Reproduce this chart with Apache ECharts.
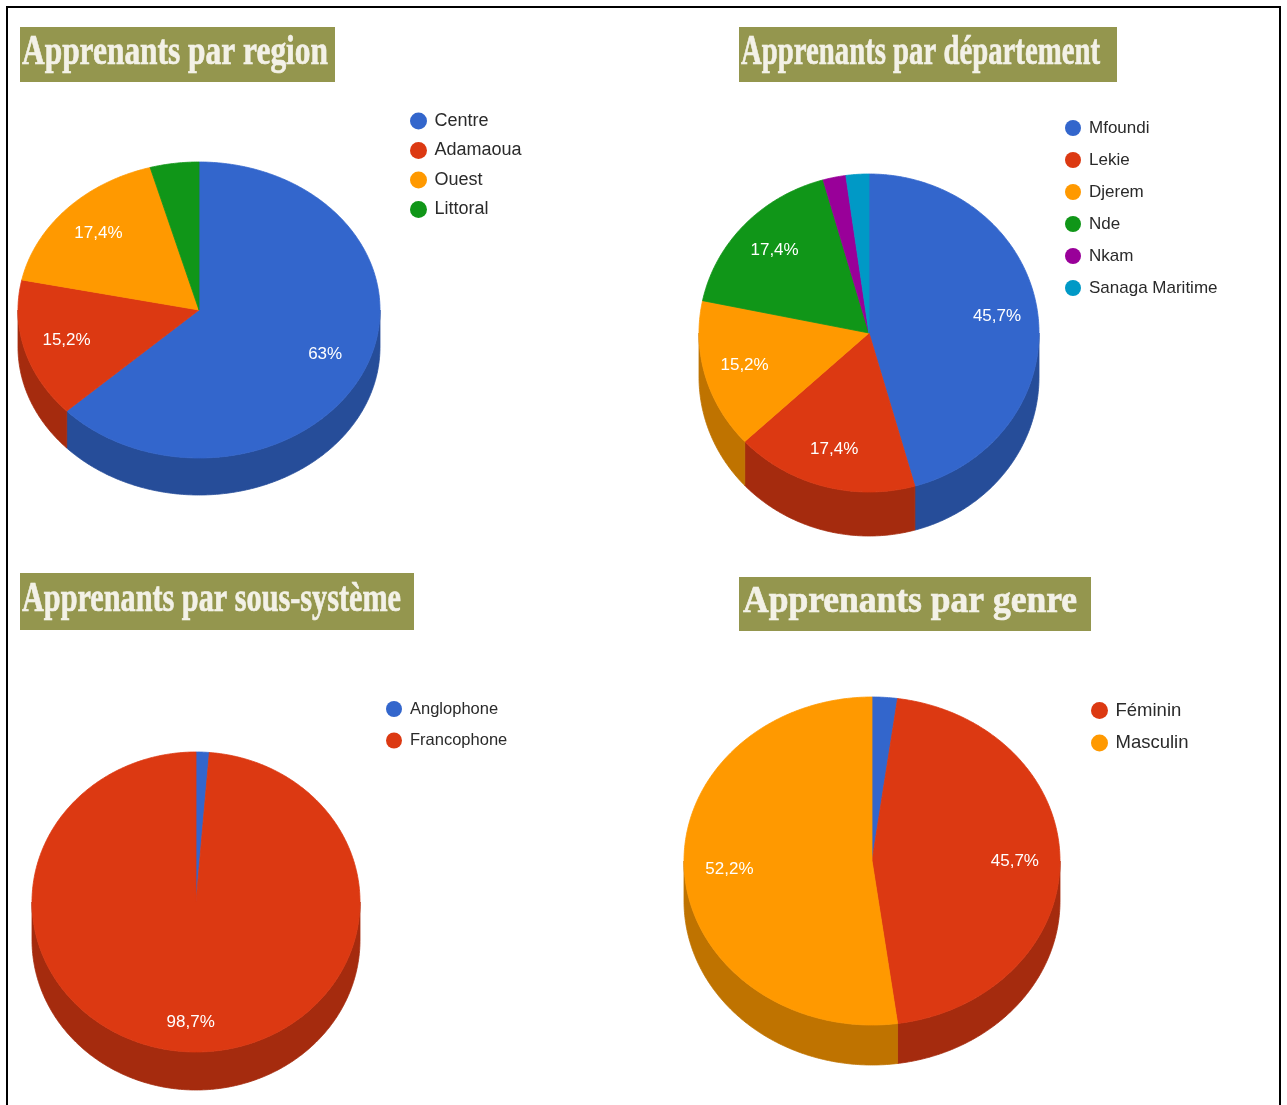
<!DOCTYPE html>
<html>
<head>
<meta charset="utf-8">
<title>Apprenants</title>
<script src="https://cdn.jsdelivr.net/npm/echarts@6/dist/echarts.min.js"></script>
<style>
  html, body { margin: 0; padding: 0; background: #fff; }
  #chart { width: 1287px; height: 1105px; }
</style>
</head>
<body>
<div id="chart"></div>
<script>
// données (nombre d'apprenants)
const regionNames = ['Centre', 'Adamaoua', 'Ouest', 'Littoral']
const regionValues = [29, 7, 8, 2]
const deptNames = ['Mfoundi', 'Lekie', 'Djerem', 'Nde', 'Nkam', 'Sanaga Maritime']
const deptValues = [21, 8, 7, 8, 1, 1]
const systemNames = ['Anglophone', 'Francophone']
const systemValues = [1, 76]
const genreNames = ['', 'Féminin', 'Masculin'] // la petite part bleue n'a pas de libellé
const genreValues = [1, 21, 24]
const titles = ['Apprenants par region', 'Apprenants par département', 'Apprenants par sous-système', 'Apprenants par genre']

const palette = ['#3366CC', '#DC3912', '#FF9900', '#109618', '#990099', '#0099C6']

// mise en page des camemberts "3d"
const pies = [
  { names: regionNames, values: regionValues, cx: 199, cy: 310, rx: 181, ry: 148, depth: 37, labelPos: 0.76,
    legend: { left: 405, top: 107, size: 18, gap: 11.5, icon: 17 } },
  { names: deptNames, values: deptValues, cx: 869, cy: 333, rx: 170, ry: 159, depth: 44, labelPos: 0.76,
    legend: { left: 1060, top: 114.5, size: 17, gap: 15, icon: 16 } },
  { names: systemNames, values: systemValues, cx: 196, cy: 902, rx: 164, ry: 150, depth: 38, labelPos: 0.8,
    legend: { left: 381, top: 695.5, size: 16.5, gap: 14.5, icon: 16 } },
  { names: genreNames, values: genreValues, cx: 872, cy: 861, rx: 188, ry: 164, depth: 40, labelPos: 0.76,
    legend: { left: 1086, top: 696, size: 18.5, gap: 13.5, icon: 17 } }
]

// bandeaux de titre
const titleBoxes = [
  { x: 20, y: 27, w: 315, h: 55, tx: 22, base: 67, tw: 306, size: 42 },
  { x: 739, y: 27, w: 378, h: 55, tx: 741, base: 67, tw: 359, size: 42 },
  { x: 20, y: 573, w: 394, h: 57, tx: 22, base: 614, tw: 379, size: 42 },
  { x: 739, y: 577, w: 352, h: 54, tx: 743, base: 614, tw: 334, size: 37 }
]

function shade (hex, f) {
  const n = parseInt(hex.slice(1), 16)
  const r = Math.round(((n >> 16) & 255) * f)
  const g = Math.round(((n >> 8) & 255) * f)
  const b = Math.round((n & 255) * f)
  return 'rgb(' + r + ',' + g + ',' + b + ')'
}

function pct (v, total) {
  return (Math.round(v / total * 1000) / 10).toString().replace('.', ',') + '%'
}

function sum (arr) {
  return arr.reduce((a, b) => a + b, 0)
}

// une part : face du dessus + tranche visible devant
function renderSlice (pie, v, before, total, color) {
  const a0 = before / total * Math.PI * 2
  const a1 = (before + v) / total * Math.PI * 2
  const pt = (a, dy, f) => [pie.cx + pie.rx * f * Math.sin(a), pie.cy - pie.ry * f * Math.cos(a) + dy]
  const arc = (s, e, dy) => {
    const n = Math.max(2, Math.ceil((e - s) / 0.01))
    const out = []
    for (let k = 0; k <= n; k++) out.push(pt(s + (e - s) * k / n, dy, 1))
    return out
  }
  const children = []
  const w0 = Math.max(a0, Math.PI / 2)
  const w1 = Math.min(a1, Math.PI * 1.5)
  if (w1 > w0) {
    const side = shade(color, 0.75)
    children.push({
      type: 'polygon',
      shape: { points: arc(w0, w1, 0).concat(arc(w0, w1, pie.depth).reverse()) },
      style: { fill: side, stroke: side, lineWidth: 0.8 }
    })
  }
  children.push({
    type: 'polygon',
    shape: { points: [[pie.cx, pie.cy]].concat(arc(a0, a1, 0)) },
    style: { fill: color, stroke: color, lineWidth: 0.8 }
  })
  if (v / total >= 0.05) {
    const m = (a0 + a1) / 2
    const p = pt(m, 0, pie.labelPos)
    children.push({
      type: 'text',
      x: p[0],
      y: p[1],
      style: {
        text: pct(v, total),
        fill: '#fff',
        font: '17px "Liberation Sans", Arial, sans-serif',
        align: 'center',
        verticalAlign: 'middle'
      }
    })
  }
  return { type: 'group', children }
}

const series = []
pies.forEach((pie) => {
  const total = sum(pie.values)
  pie.values.forEach((v, i) => {
    series.push({
      type: 'custom',
      name: pie.names[i],
      coordinateSystem: 'none',
      silent: true,
      animation: false,
      itemStyle: { color: palette[i] },
      data: [[v, sum(pie.values.slice(0, i)), total]],
      renderItem: (params, api) => renderSlice(pie, api.value(0), api.value(1), api.value(2), palette[i])
    })
  })
})

const legend = pies.map((pie) => ({
  orient: 'vertical',
  left: pie.legend.left,
  top: pie.legend.top,
  icon: 'circle',
  itemWidth: 22,
  itemHeight: pie.legend.icon,
  itemGap: pie.legend.gap,
  selectedMode: false,
  data: pie.names.filter((n) => n !== ''),
  textStyle: {
    color: '#2a2a2a',
    fontSize: pie.legend.size,
    fontFamily: '"Liberation Sans", Arial, sans-serif'
  }
}))

const ctx = document.createElement('canvas').getContext('2d')

const graphic = [
  {
    type: 'rect',
    silent: true,
    shape: { x: 7, y: 7, width: 1273, height: 1120 },
    style: { fill: 'none', stroke: '#000', lineWidth: 2 }
  }
]
titleBoxes.forEach((b, i) => {
  const font = 'bold ' + b.size + 'px "Liberation Serif", "DejaVu Serif", serif'
  ctx.font = font
  const scaleX = b.tw / ctx.measureText(titles[i]).width
  graphic.push({
    type: 'group',
    silent: true,
    children: [
      { type: 'rect', shape: { x: b.x, y: b.y, width: b.w, height: b.h }, style: { fill: '#94964E' } },
      {
        type: 'text',
        x: b.tx,
        y: b.base - b.size * 0.32,
        scaleX: scaleX,
        style: {
          text: titles[i],
          font: font,
          fill: '#f3f1e7',
          stroke: '#f3f1e7',
          lineWidth: 0.7,
          align: 'left',
          verticalAlign: 'middle'
        }
      }
    ]
  })
})

const myChart = echarts.init(document.getElementById('chart'))
myChart.setOption({
  animation: false,
  legend: legend,
  graphic: graphic,
  series: series
})
</script>
</body>
</html>
